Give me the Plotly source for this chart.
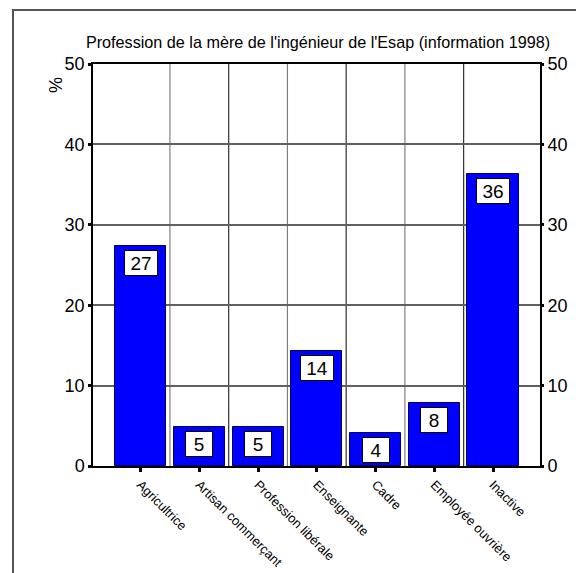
import plotly.graph_objects as go

categories = ["Agricultrice", "Artisan commerçant", "Profession libérale",
              "Enseignante", "Cadre", "Employée ouvrière", "Inactive"]
values = [27.4, 4.85, 4.85, 14.3, 4.1, 7.8, 36.3]
labels = ["27", "5", "5", "14", "4", "8", "36"]
y_ticks = [0, 10, 20, 30, 40, 50]
title = "Profession de la mère de l'ingénieur de l'Esap (information 1998)"

FONT = "Liberation Sans, Arial"
OFF = 8  # browser body margin
W, H = 584 - OFF, 573 - OFF
L, T = 93 - OFF, 64 - OFF
R = W - (540 - OFF)
B = H - (466 - OFF)
pw, ph = W - L - R, H - T - B

def px(xr):  # reference pixel x -> paper
    return (xr - OFF - L) / pw

def py(yr):  # reference pixel y -> paper
    return (H - B - (yr - OFF)) / ph

fig = go.Figure()
fig.add_trace(go.Bar(
    x=list(range(len(categories))), y=values, width=0.87,
    marker=dict(color="#0000FF", line=dict(color="#000060", width=1)),
    showlegend=False, hoverinfo="skip"))
fig.add_trace(go.Scatter(x=[0], y=[0], yaxis="y2", mode="markers",
                         marker=dict(opacity=0), showlegend=False, hoverinfo="skip"))

for i, (v, t) in enumerate(zip(values, labels)):
    fig.add_annotation(x=i, y=v, text=t, showarrow=False, yanchor="top", yshift=-4,
                       width=30 if len(t) > 1 else 24, height=22,
                       font=dict(family=FONT, size=19, color="black"),
                       bgcolor="white", bordercolor="black", borderwidth=1, borderpad=1)

for i in range(len(categories) - 1):
    fig.add_shape(type="line", xref="x", yref="paper", x0=i + 0.5, x1=i + 0.5, y0=0, y1=1,
                  line=dict(color="#303030" if i % 2 else "#808080", width=1.2), layer="below")

fig.add_shape(type="rect", xref="paper", yref="paper",
              x0=px(13), x1=px(640), y0=py(640), y1=py(10),
              line=dict(color="#555555", width=2), layer="below")

fig.add_annotation(xref="paper", yref="paper", x=px(44), y=py(75),
                   text="%", textangle=-90, showarrow=False,
                   font=dict(family=FONT, size=18, color="black"))

fig.update_layout(
    width=W, height=H, margin=dict(l=L, r=R, t=T, b=B, autoexpand=False),
    paper_bgcolor="white", plot_bgcolor="white",
    title=dict(text=title, x=(318 - OFF) / W, xanchor="center", y=1 - (42 - OFF) / H,
               yanchor="middle", font=dict(family=FONT, size=16.2, color="black")),
    bargap=0,
    xaxis=dict(range=[-0.81, 6.8], tickmode="array", tickvals=list(range(len(categories))),
               ticktext=categories, tickangle=45, ticks="outside", ticklen=4, tickwidth=3,
               tickcolor="black", showgrid=False, showline=True, linecolor="black", linewidth=2,
               mirror=True, zeroline=False,
               tickfont=dict(family=FONT, size=13, color="black")),
    yaxis=dict(range=[0, 50], tickvals=y_ticks, ticks="outside", ticklen=3, tickwidth=3,
               tickcolor="black", showgrid=True, gridcolor="#606060", gridwidth=1.5,
               showline=True, linecolor="black", linewidth=1.5, mirror=True, zeroline=False,
               tickfont=dict(family=FONT, size=18, color="black")),
    yaxis2=dict(range=[0, 50], tickvals=y_ticks, overlaying="y", side="right", ticks="outside",
                ticklen=3, tickwidth=3, tickcolor="black", showgrid=False, showline=False,
                zeroline=False, tickfont=dict(family=FONT, size=18, color="black")),
)

fig.write_html("out.html")
